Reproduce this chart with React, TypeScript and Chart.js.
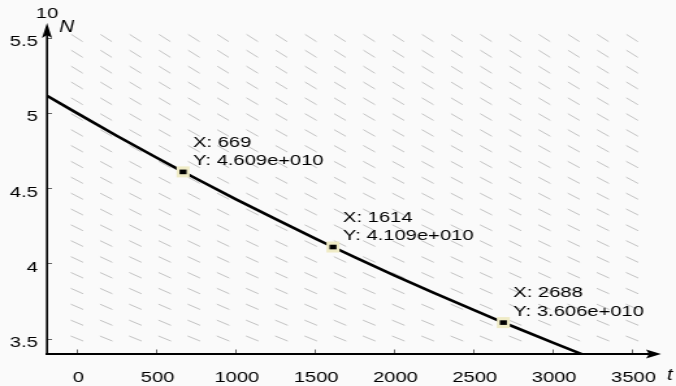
import React, { useEffect, useRef } from "react";
import { Chart, registerables } from "chart.js";

Chart.register(...registerables);

// The reference is horizontally stretched: draw on a narrower canvas and widen it with CSS.
const STRETCH = 1.3;
const CANVAS_W = 520;
const CANVAS_H = 386;
const FONT = '"Liberation Sans", Arial, Helvetica, sans-serif';

// Axis ranges (N in units of 10^10)
const X_MIN = -189;
const X_MAX = 3682;
const Y_MIN = 3.397;
const Y_MAX = 5.6;

const xTicks = [0, 500, 1000, 1500, 2000, 2500, 3000, 3500];
const yTicks = [3.5, 4, 4.5, 5, 5.5];

// Solution curve
const solutionT = [-189, 0, 250, 500, 669, 750, 1000, 1250, 1500, 1614, 1750, 2000, 2250, 2500, 2688, 2750, 3000, 3190];
const solutionN = [5.116, 5.0, 4.85, 4.705, 4.609, 4.565, 4.428, 4.296, 4.167, 4.109, 4.042, 3.921, 3.804, 3.69, 3.606, 3.58, 3.473, 3.393];

// Direction-field grid
const fieldT = [0, 184, 368, 553, 737, 921, 1105, 1289, 1474, 1658, 1842, 2026, 2211, 2395, 2579, 2763, 2947, 3132, 3316, 3500];
const fieldN = [3.5, 3.605, 3.711, 3.816, 3.921, 4.026, 4.132, 4.237, 4.342, 4.447, 4.553, 4.658, 4.763, 4.868, 4.974, 5.079, 5.184, 5.289, 5.395, 5.5];
const decayRate = 1.215e-4; // dN/dt = -decayRate * N

// Data tips
const tipT = [669, 1614, 2688];
const tipN = [4.609, 4.109, 3.606];
const tipLabelX = ["X: 669", "X: 1614", "X: 2688"];
const tipLabelY = ["Y: 4.609e+010", "Y: 4.109e+010", "Y: 3.606e+010"];

const decorPlugin = {
  id: "decor",
  beforeDraw(chart: any) {
    const ctx = chart.ctx;
    ctx.save();
    ctx.fillStyle = "#fafafa";
    ctx.fillRect(0, 0, chart.width, chart.height);
    ctx.restore();
  },
  beforeDatasetsDraw(chart: any) {
    const ctx = chart.ctx;
    const xs = chart.scales.x;
    const ys = chart.scales.y;
    const L = 13.5;
    ctx.save();
    ctx.strokeStyle = "#c4c4c4";
    ctx.lineWidth = 1;
    ctx.beginPath();
    for (const t of fieldT) {
      for (const n of fieldN) {
        const px = xs.getPixelForValue(t);
        const py = ys.getPixelForValue(n);
        const h = 100;
        const slope = -decayRate * n;
        const dx = (xs.getPixelForValue(t + h) - px) * STRETCH;
        const dy = ys.getPixelForValue(n + slope * h) - py;
        const len = Math.hypot(dx, dy);
        const ux = ((dx / len) * L) / 2 / STRETCH;
        const uy = ((dy / len) * L) / 2;
        ctx.moveTo(px - ux, py - uy);
        ctx.lineTo(px + ux, py + uy);
      }
    }
    ctx.stroke();
    ctx.restore();
  },
  afterDatasetsDraw(chart: any) {
    const ctx = chart.ctx;
    const xs = chart.scales.x;
    const ys = chart.scales.y;
    const { left, right, top, bottom } = chart.chartArea;
    ctx.save();

    // tick marks (inward)
    ctx.strokeStyle = "#666";
    ctx.lineWidth = 1;
    ctx.beginPath();
    for (const v of xTicks) {
      const px = Math.round(xs.getPixelForValue(v)) + 0.5;
      ctx.moveTo(px, bottom);
      ctx.lineTo(px, bottom - 4.5);
    }
    for (const v of yTicks) {
      const py = Math.round(ys.getPixelForValue(v)) + 0.5;
      ctx.moveTo(left, py);
      ctx.lineTo(left + 5 / STRETCH, py);
    }
    ctx.stroke();

    // axes
    ctx.strokeStyle = "#000";
    ctx.fillStyle = "#000";
    ctx.lineWidth = 1.6;
    ctx.beginPath();
    ctx.moveTo(left, bottom + 1);
    ctx.lineTo(left, top + 8);
    ctx.stroke();
    ctx.lineWidth = 2;
    ctx.beginPath();
    ctx.moveTo(left - 1, bottom);
    ctx.lineTo(right - 8, bottom);
    ctx.stroke();

    // arrow heads
    const hw = 5 / STRETCH;
    ctx.beginPath();
    ctx.moveTo(left, top);
    ctx.lineTo(left + hw, top + 15);
    ctx.lineTo(left, top + 12);
    ctx.lineTo(left - hw, top + 15);
    ctx.closePath();
    ctx.fill();
    const al = 15 / STRETCH;
    ctx.beginPath();
    ctx.moveTo(right, bottom);
    ctx.lineTo(right - al, bottom - 4.5);
    ctx.lineTo(right - al + 3 / STRETCH, bottom);
    ctx.lineTo(right - al, bottom + 4.5);
    ctx.closePath();
    ctx.fill();

    // axis labels
    ctx.textBaseline = "middle";
    ctx.textAlign = "center";
    ctx.font = `15.5px ${FONT}`;
    ctx.fillText("10", left, 14);
    ctx.textAlign = "left";
    ctx.font = `italic 16px ${FONT}`;
    ctx.fillText("N", 59 / STRETCH, 28);
    ctx.fillText("t", 667 / STRETCH, 376);

    // data tips
    for (let i = 0; i < tipT.length; i++) {
      const px = xs.getPixelForValue(tipT[i]);
      const py = ys.getPixelForValue(tipN[i]);
      ctx.fillStyle = "#efebc6";
      ctx.fillRect(px - 5, py - 5.5, 10, 11);
      ctx.fillStyle = "#000";
      ctx.fillRect(px - 2.7, py - 2.3, 5.4, 4.6);
      ctx.fillStyle = "#000";
      ctx.font = `15.5px ${FONT}`;
      ctx.textAlign = "left";
      ctx.textBaseline = "middle";
      ctx.fillText(tipLabelX[i], px + 10 / STRETCH, py - 29.5);
      ctx.fillText(tipLabelY[i], px + 10 / STRETCH, py - 11);
    }
    ctx.restore();
  },
};

export default function App() {
  const ref = useRef<HTMLCanvasElement | null>(null);
  useEffect(() => {
    if (!ref.current) return;
    const chart = new Chart(ref.current, {
      type: "scatter",
      data: {
        datasets: [
          {
            data: solutionT.map((t, i) => ({ x: t, y: solutionN[i] })),
            showLine: true,
            borderColor: "#000",
            borderWidth: 2.6,
            pointRadius: 0,
            tension: 0,
          },
        ],
      },
      options: {
        animation: false,
        responsive: false,
        devicePixelRatio: 1,
        events: [],
        layout: { padding: { top: 23, right: CANVAS_W - 661 / STRETCH, left: 0, bottom: 0 } },
        plugins: { legend: { display: false }, tooltip: { enabled: false } },
        scales: {
          x: {
            type: "linear",
            min: X_MIN,
            max: X_MAX,
            grid: { display: false, drawTicks: false },
            border: { display: false },
            afterBuildTicks: (s: any) => {
              s.ticks = xTicks.map((v) => ({ value: v }));
            },
            afterFit: (s: any) => {
              s.height = CANVAS_H - 354;
            },
            ticks: {
              font: { family: FONT, size: 15.5 },
              color: "#000",
              padding: 14,
              maxRotation: 0,
              autoSkip: false,
              labelOffset: 1,
              callback: (v: any) => String(v),
            },
          },
          y: {
            type: "linear",
            min: Y_MIN,
            max: Y_MAX,
            grid: { display: false, drawTicks: false },
            border: { display: false },
            afterBuildTicks: (s: any) => {
              s.ticks = yTicks.map((v) => ({ value: v }));
            },
            afterFit: (s: any) => {
              s.width = 47 / STRETCH;
            },
            ticks: {
              font: { family: FONT, size: 15.5 },
              color: "#000",
              padding: 7,
              labelOffset: 4,
              autoSkip: false,
              callback: (v: any) => String(v),
            },
          },
        },
      },
      plugins: [decorPlugin],
    });
    return () => chart.destroy();
  }, []);

  return (
    <div style={{ position: "fixed", left: 0, top: 0, width: 676, height: 386, background: "#fafafa" }}>
      <canvas
        ref={ref}
        width={CANVAS_W}
        height={CANVAS_H}
        style={{ width: "676px", height: "386px", display: "block" }}
      />
    </div>
  );
}
